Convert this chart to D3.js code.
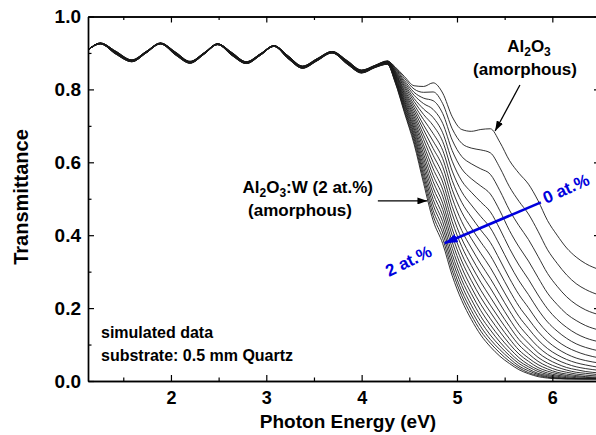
<!DOCTYPE html>
<html>
<head>
<meta charset="utf-8">
<script src="https://cdnjs.cloudflare.com/ajax/libs/d3/7.8.5/d3.min.js"></script>
<style>
  body { margin: 0; background: #fff; }
  svg { display: block; font-family: "Liberation Sans", Arial, sans-serif; font-weight: bold; }
</style>
</head>
<body>
<div id="chart"></div>
<script>
// W content of every simulated film (at.%), one curve each
var concentrations = [0, 0.1, 0.2, 0.3, 0.4, 0.5, 0.6, 0.7, 0.8, 0.9, 1.0,
  1.1, 1.2, 1.3, 1.4, 1.5, 1.6, 1.7, 1.8, 1.9, 2.0];

// interference region: one row per energy, one column per concentration
var bandEnergies = [1.13, 1.26, 1.42, 1.59, 1.74, 1.89, 2.05, 2.20, 2.35, 2.49, 2.64,
  2.79, 2.94, 3.08, 3.23, 3.38, 3.53, 3.69, 3.85, 4.00, 4.14];
var bandRows = [
  [.908,.908,.908,.908,.908,.908,.908,.908,.908,.908,.908,.908,.908,.908,.908,.908,.908,.908,.908,.908,.908],
  [.927,.927,.927,.927,.927,.926,.926,.926,.926,.926,.926,.926,.926,.926,.926,.925,.925,.925,.925,.925,.925],
  [.905,.905,.904,.904,.903,.903,.903,.902,.902,.901,.901,.901,.900,.900,.899,.899,.899,.898,.898,.897,.897],
  [.881,.881,.880,.880,.880,.880,.879,.879,.879,.879,.878,.878,.878,.878,.877,.877,.877,.877,.876,.876,.876],
  [.904,.904,.904,.903,.903,.903,.903,.903,.902,.902,.902,.902,.902,.901,.901,.901,.901,.901,.900,.900,.900],
  [.927,.927,.927,.927,.927,.926,.926,.926,.926,.926,.926,.926,.926,.926,.926,.925,.925,.925,.925,.925,.925],
  [.902,.902,.901,.901,.900,.900,.900,.899,.899,.898,.898,.898,.897,.897,.896,.896,.896,.895,.895,.894,.894],
  [.877,.877,.876,.876,.876,.876,.875,.875,.875,.875,.874,.874,.874,.874,.873,.873,.873,.873,.872,.872,.872],
  [.901,.901,.901,.900,.900,.900,.900,.900,.899,.899,.899,.899,.899,.898,.898,.898,.898,.898,.897,.897,.897],
  [.925,.925,.925,.925,.925,.924,.924,.924,.924,.924,.924,.924,.924,.924,.924,.923,.923,.923,.923,.923,.923],
  [.901,.901,.900,.900,.899,.899,.899,.898,.898,.897,.897,.897,.896,.896,.895,.895,.895,.894,.894,.893,.893],
  [.876,.876,.875,.875,.875,.875,.874,.874,.874,.874,.873,.873,.873,.873,.872,.872,.872,.872,.871,.871,.871],
  [.898,.898,.898,.897,.897,.897,.897,.897,.896,.896,.896,.896,.896,.895,.895,.895,.895,.895,.894,.894,.894],
  [.920,.920,.920,.920,.920,.919,.919,.919,.919,.919,.919,.919,.919,.919,.919,.918,.918,.918,.918,.918,.918],
  [.892,.892,.891,.891,.890,.890,.890,.889,.889,.888,.888,.888,.887,.887,.886,.886,.886,.885,.885,.884,.884],
  [.864,.864,.863,.863,.863,.862,.862,.862,.862,.861,.861,.861,.860,.860,.860,.859,.859,.859,.859,.858,.858],
  [.884,.884,.883,.883,.883,.882,.882,.882,.882,.881,.881,.881,.880,.880,.880,.879,.879,.879,.879,.878,.878],
  [.904,.904,.904,.903,.903,.903,.903,.903,.902,.902,.902,.902,.902,.901,.901,.901,.901,.901,.900,.900,.900],
  [.879,.878,.878,.877,.877,.876,.876,.875,.875,.874,.874,.873,.873,.872,.872,.871,.871,.870,.870,.869,.869],
  [.853,.853,.852,.852,.851,.851,.851,.850,.850,.849,.849,.849,.848,.848,.847,.847,.847,.846,.846,.845,.845],
  [.866,.866,.865,.865,.865,.864,.864,.864,.864,.863,.863,.863,.862,.862,.862,.861,.861,.861,.861,.860,.860]
];

// absorption edge region, same layout
var edgeEnergies = [4.27, 4.35, 4.45, 4.55, 4.65, 4.75, 4.85, 4.95, 5.05, 5.15, 5.25, 5.35,
  5.45, 5.55, 5.65, 5.75, 5.85, 5.95, 6.05, 6.15, 6.25, 6.35, 6.50];
var edgeRows = [
  [.878,.878,.877,.877,.876,.876,.875,.875,.874,.874,.874,.873,.873,.872,.872,.871,.871,.870,.870,.869,.869],
  [.862,.860,.858,.856,.853,.851,.849,.847,.845,.843,.841,.839,.836,.834,.832,.830,.828,.826,.824,.822,.820],
  [.835,.830,.824,.819,.814,.809,.804,.798,.793,.788,.783,.778,.773,.768,.763,.759,.754,.749,.744,.739,.735],
  [.810,.801,.792,.784,.775,.767,.758,.750,.742,.734,.726,.718,.710,.702,.694,.687,.679,.672,.665,.657,.650],
  [.808,.792,.776,.761,.746,.731,.717,.702,.689,.675,.662,.648,.636,.623,.611,.599,.587,.575,.564,.553,.542],
  [.818,.793,.769,.745,.723,.701,.679,.658,.638,.619,.600,.582,.564,.547,.530,.514,.498,.483,.468,.454,.440],
  [.790,.761,.734,.707,.681,.657,.633,.610,.588,.566,.546,.526,.507,.488,.471,.454,.437,.421,.406,.391,.377],
  [.725,.692,.661,.632,.603,.576,.550,.525,.502,.479,.458,.437,.417,.399,.381,.364,.347,.332,.317,.303,.289],
  [.690,.652,.616,.582,.549,.519,.490,.463,.437,.413,.390,.369,.348,.329,.311,.293,.277,.262,.247,.234,.221],
  [.685,.639,.596,.555,.518,.483,.450,.420,.391,.365,.340,.317,.296,.276,.257,.240,.224,.208,.194,.181,.169],
  [.690,.634,.582,.535,.491,.451,.414,.381,.350,.321,.295,.271,.249,.229,.210,.193,.177,.163,.149,.137,.126],
  [.692,.626,.567,.513,.464,.420,.380,.344,.311,.281,.255,.230,.208,.189,.171,.154,.140,.126,.114,.104,.094],
  [.655,.585,.522,.467,.417,.372,.332,.297,.265,.237,.212,.189,.169,.151,.135,.120,.107,.096,.086,.077,.068],
  [.605,.533,.469,.413,.364,.321,.282,.249,.219,.193,.170,.150,.132,.116,.102,.090,.079,.070,.062,.054,.048],
  [.570,.493,.426,.368,.318,.275,.237,.205,.177,.153,.132,.114,.099,.085,.074,.064,.055,.048,.041,.036,.031],
  [.540,.458,.388,.329,.279,.237,.201,.170,.144,.122,.104,.088,.075,.063,.054,.045,.039,.033,.028,.023,.020],
  [.495,.411,.342,.284,.236,.196,.163,.136,.113,.094,.078,.065,.054,.045,.037,.031,.026,.021,.018,.015,.012],
  [.440,.360,.295,.241,.198,.162,.133,.109,.089,.073,.060,.049,.040,.033,.027,.022,.018,.015,.012,.010,.008],
  [.400,.323,.260,.210,.169,.137,.110,.089,.072,.058,.047,.038,.030,.024,.020,.016,.013,.010,.008,.007,.006],
  [.365,.291,.231,.184,.147,.117,.093,.074,.059,.047,.037,.030,.024,.019,.015,.012,.009,.008,.006,.006,.006],
  [.340,.267,.210,.166,.130,.102,.081,.063,.050,.039,.031,.024,.019,.015,.012,.009,.007,.006,.006,.006,.006],
  [.322,.251,.195,.152,.118,.092,.072,.056,.044,.034,.026,.021,.016,.012,.010,.008,.006,.006,.006,.006,.006],
  [.305,.235,.181,.139,.107,.082,.063,.049,.037,.029,.022,.017,.013,.010,.008,.006,.006,.006,.006,.006,.006]
];

var xTicks = [2, 3, 4, 5, 6];
var xMinorTicks = [1.5, 2.5, 3.5, 4.5, 5.5, 6.5];
var yTicks = [0, 0.2, 0.4, 0.6, 0.8, 1.0];
var yMinorTicks = [0.1, 0.3, 0.5, 0.7, 0.9];

(function() {
  'use strict';

  var width = 596, height = 435;
  var left = 88, right = 600, top = 16.5, bottom = 381;

  var x = d3.scaleLinear().domain([1.13, 6.5]).range([left, right]);
  var y = d3.scaleLinear().domain([0, 1]).range([bottom, top]);

  var energies = bandEnergies.concat(edgeEnergies);
  var rows = bandRows.concat(edgeRows);
  var series = concentrations.map(function(c, j) {
    return rows.map(function(row, k) { return [energies[k], row[j]]; });
  });

  var svg = d3.select("#chart").append("svg")
    .attr("width", width)
    .attr("height", height);

  var defs = svg.append("defs");
  defs.append("clipPath").attr("id", "plot-clip")
    .append("rect")
    .attr("x", left).attr("y", top)
    .attr("width", right - left).attr("height", bottom - top);

  function head(id, color, w, h) {
    defs.append("marker")
      .attr("id", id)
      .attr("viewBox", "0 0 " + w + " " + h)
      .attr("refX", w).attr("refY", h / 2)
      .attr("markerWidth", w).attr("markerHeight", h)
      .attr("markerUnits", "userSpaceOnUse")
      .attr("orient", "auto")
      .append("path")
      .attr("d", "M0,0L" + w + "," + (h / 2) + "L0," + h + "z")
      .attr("fill", color);
  }
  head("head-black", "#000", 10, 7);
  head("head-blue", "#0000dd", 13, 9);

  // curves
  var line = d3.line()
    .x(function(d) { return x(d[0]); })
    .y(function(d) { return y(d[1]); })
    .curve(d3.curveMonotoneX);

  svg.append("g")
    .attr("clip-path", "url(#plot-clip)")
    .selectAll("path")
    .data(series)
    .enter()
    .append("path")
    .attr("d", line)
    .attr("fill", "none")
    .attr("stroke", "#1c1c1c")
    .attr("stroke-width", 0.9);

  // axes: ticks point inwards on all four sides
  function styleAxis(g) {
    g.selectAll("path.domain").attr("stroke", "#000").attr("stroke-width", 1.4);
    g.selectAll(".tick line").attr("stroke", "#000").attr("stroke-width", 1.2);
    g.selectAll(".tick text").attr("fill", "#000");
  }

  svg.append("g")
    .attr("transform", "translate(0," + bottom + ")")
    .call(d3.axisBottom(x).tickValues(xMinorTicks).tickSizeInner(-3.5).tickSizeOuter(0).tickFormat(""))
    .call(styleAxis);
  svg.append("g")
    .attr("transform", "translate(0," + bottom + ")")
    .call(d3.axisBottom(x).tickValues(xTicks).tickSizeInner(-6).tickSizeOuter(0).tickPadding(10)
      .tickFormat(d3.format("d")))
    .call(styleAxis)
    .attr("font-family", null).attr("font-size", 18);

  svg.append("g")
    .attr("transform", "translate(0," + top + ")")
    .call(d3.axisTop(x).tickValues(xTicks).tickSizeInner(-6).tickSizeOuter(0).tickFormat(""))
    .call(styleAxis);
  svg.append("g")
    .attr("transform", "translate(0," + top + ")")
    .call(d3.axisTop(x).tickValues(xMinorTicks).tickSizeInner(-3.5).tickSizeOuter(0).tickFormat(""))
    .call(styleAxis);

  svg.append("g")
    .attr("transform", "translate(" + left + ",0)")
    .call(d3.axisLeft(y).tickValues(yMinorTicks).tickSizeInner(-3.5).tickSizeOuter(0).tickFormat(""))
    .call(styleAxis);
  svg.append("g")
    .attr("transform", "translate(" + left + ",0)")
    .call(d3.axisLeft(y).tickValues(yTicks).tickSizeInner(-6).tickSizeOuter(0).tickPadding(7)
      .tickFormat(d3.format(".1f")))
    .call(styleAxis)
    .attr("font-family", null).attr("font-size", 19);

  svg.append("g")
    .attr("transform", "translate(" + right + ",0)")
    .call(d3.axisRight(y).tickValues(yTicks).tickSizeInner(-6).tickSizeOuter(0).tickFormat(""))
    .call(styleAxis);
  svg.append("g")
    .attr("transform", "translate(" + right + ",0)")
    .call(d3.axisRight(y).tickValues(yMinorTicks).tickSizeInner(-3.5).tickSizeOuter(0).tickFormat(""))
    .call(styleAxis);

  // axis titles
  svg.append("text")
    .attr("x", 348).attr("y", 428)
    .attr("text-anchor", "middle")
    .attr("font-size", 19)
    .text("Photon Energy (eV)");

  svg.append("text")
    .attr("transform", "translate(28,197) rotate(-90)")
    .attr("text-anchor", "middle")
    .attr("font-size", 20)
    .text("Transmittance");

  // Al2O3 label, top right
  function formula(t, tail) {
    t.append("tspan").text("Al");
    t.append("tspan").attr("dy", 4).attr("font-size", 12).text("2");
    t.append("tspan").attr("dy", -4).text("O");
    t.append("tspan").attr("dy", 4).attr("font-size", 12).text("3");
    if (tail) t.append("tspan").attr("dy", -4).text(tail);
  }

  var t1 = svg.append("text")
    .attr("x", 529).attr("y", 52)
    .attr("text-anchor", "middle")
    .attr("font-size", 17);
  formula(t1, null);
  svg.append("text")
    .attr("x", 525).attr("y", 75)
    .attr("text-anchor", "middle")
    .attr("font-size", 17)
    .text("(amorphous)");

  svg.append("line")
    .attr("x1", x(5.66)).attr("y1", y(0.812))
    .attr("x2", x(5.40)).attr("y2", y(0.686))
    .attr("stroke", "#000").attr("stroke-width", 1.3)
    .attr("marker-end", "url(#head-black)");

  // Al2O3:W label, middle
  var t2 = svg.append("text")
    .attr("x", 373).attr("y", 193)
    .attr("text-anchor", "end")
    .attr("font-size", 17);
  formula(t2, ":W (2 at.%)");
  svg.append("text")
    .attr("x", 300).attr("y", 216)
    .attr("text-anchor", "middle")
    .attr("font-size", 17)
    .text("(amorphous)");

  svg.append("line")
    .attr("x1", x(4.17)).attr("y1", y(0.494))
    .attr("x2", x(4.69)).attr("y2", y(0.494))
    .attr("stroke", "#000").attr("stroke-width", 1.3)
    .attr("marker-end", "url(#head-black)");

  // concentration direction arrow
  svg.append("line")
    .attr("x1", x(5.88)).attr("y1", y(0.49))
    .attr("x2", x(4.87)).attr("y2", y(0.378))
    .attr("stroke", "#0000dd").attr("stroke-width", 2.6)
    .attr("marker-end", "url(#head-blue)");

  svg.append("text")
    .attr("transform", "translate(546,204) rotate(-24)")
    .attr("fill", "#0000dd")
    .attr("font-size", 17)
    .text("0 at.%");
  svg.append("text")
    .attr("transform", "translate(389,277) rotate(-26)")
    .attr("fill", "#0000dd")
    .attr("font-size", 17)
    .text("2 at.%");

  // note, bottom left
  svg.append("text")
    .attr("x", 101).attr("y", 338)
    .attr("font-size", 16)
    .text("simulated data");
  svg.append("text")
    .attr("x", 101).attr("y", 361)
    .attr("font-size", 16)
    .text("substrate: 0.5 mm Quartz");
})();
</script>
</body>
</html>
